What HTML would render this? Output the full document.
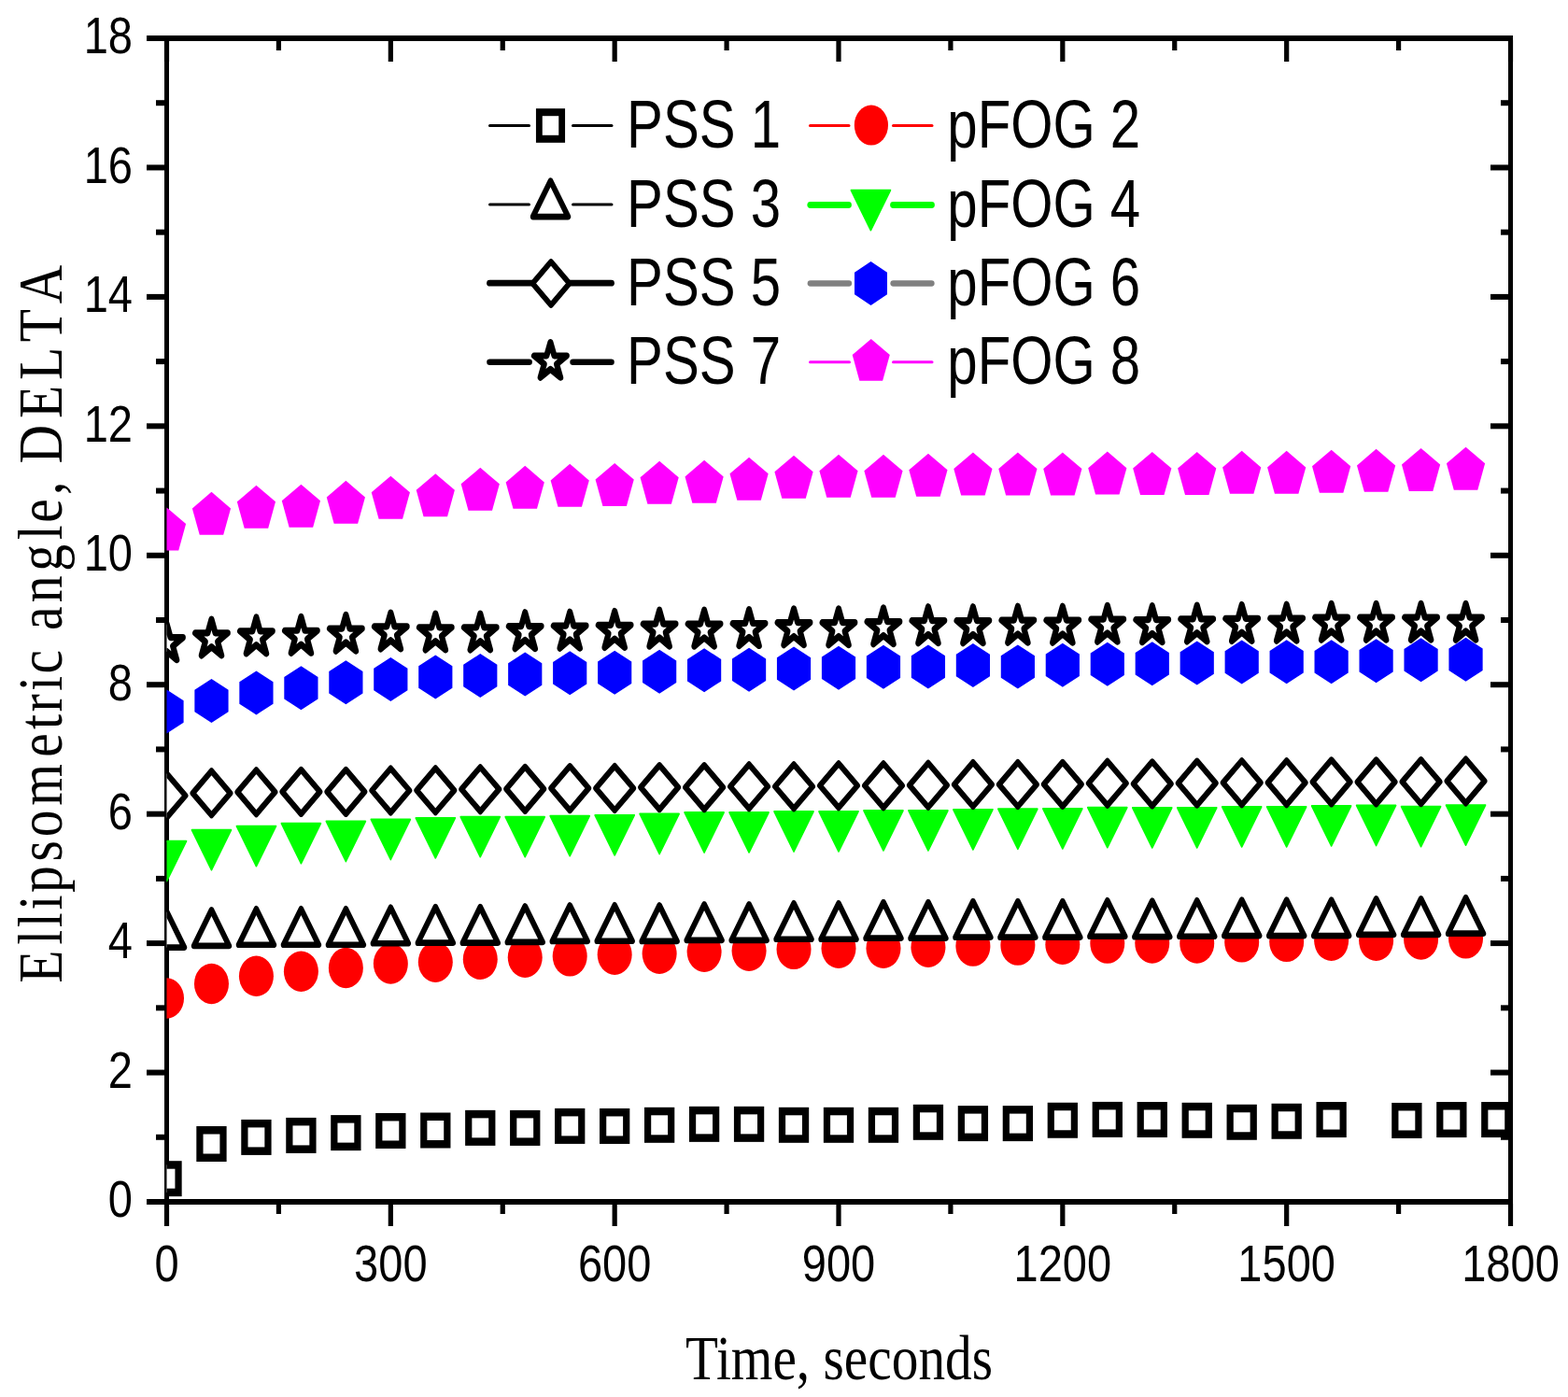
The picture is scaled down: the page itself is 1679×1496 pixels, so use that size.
<!DOCTYPE html>
<html><head><meta charset="utf-8"><title>Ellipsometric angle vs time</title>
<style>html,body{margin:0;padding:0;background:#fff;}svg{display:block;}.ax{font-family:"Liberation Sans",Arial,sans-serif;font-size:56px;fill:#000;}.lg{font-family:"Liberation Sans",Arial,sans-serif;font-size:72.7px;fill:#000;}.tt{font-family:"Liberation Serif","Times New Roman",serif;font-size:68.5px;fill:#000;}</style>
</head><body>
<svg width="1679" height="1496" viewBox="0 0 1679 1496">
<rect width="1679" height="1496" fill="#fff"/>
<defs><clipPath id="pc"><rect x="178.5" y="41" width="1439" height="1246"/></clipPath></defs>
<g fill="#000"><rect x="157" y="38" width="1463" height="6"/><rect x="157" y="1284" width="1463" height="6"/><rect x="176" y="38" width="5" height="1275"/><rect x="1615" y="38" width="5" height="1275"/><rect x="157" y="1284" width="20" height="6"/><rect x="1596" y="1284" width="20" height="6"/><rect x="167" y="1214.78" width="10" height="6"/><rect x="1607" y="1214.78" width="9" height="6"/><rect x="157" y="1145.56" width="20" height="6"/><rect x="1596" y="1145.56" width="20" height="6"/><rect x="167" y="1076.33" width="10" height="6"/><rect x="1607" y="1076.33" width="9" height="6"/><rect x="157" y="1007.11" width="20" height="6"/><rect x="1596" y="1007.11" width="20" height="6"/><rect x="167" y="937.89" width="10" height="6"/><rect x="1607" y="937.89" width="9" height="6"/><rect x="157" y="868.67" width="20" height="6"/><rect x="1596" y="868.67" width="20" height="6"/><rect x="167" y="799.44" width="10" height="6"/><rect x="1607" y="799.44" width="9" height="6"/><rect x="157" y="730.22" width="20" height="6"/><rect x="1596" y="730.22" width="20" height="6"/><rect x="167" y="661" width="10" height="6"/><rect x="1607" y="661" width="9" height="6"/><rect x="157" y="591.78" width="20" height="6"/><rect x="1596" y="591.78" width="20" height="6"/><rect x="167" y="522.56" width="10" height="6"/><rect x="1607" y="522.56" width="9" height="6"/><rect x="157" y="453.33" width="20" height="6"/><rect x="1596" y="453.33" width="20" height="6"/><rect x="167" y="384.11" width="10" height="6"/><rect x="1607" y="384.11" width="9" height="6"/><rect x="157" y="314.89" width="20" height="6"/><rect x="1596" y="314.89" width="20" height="6"/><rect x="167" y="245.67" width="10" height="6"/><rect x="1607" y="245.67" width="9" height="6"/><rect x="157" y="176.44" width="20" height="6"/><rect x="1596" y="176.44" width="20" height="6"/><rect x="167" y="107.22" width="10" height="6"/><rect x="1607" y="107.22" width="9" height="6"/><rect x="157" y="38" width="20" height="6"/><rect x="1596" y="38" width="20" height="6"/><rect x="175.9" y="1289" width="5.2" height="24"/><rect x="175.9" y="43" width="5.2" height="23"/><rect x="295.82" y="1289" width="5.2" height="11"/><rect x="295.82" y="43" width="5.2" height="11"/><rect x="415.73" y="1289" width="5.2" height="24"/><rect x="415.73" y="43" width="5.2" height="23"/><rect x="535.65" y="1289" width="5.2" height="11"/><rect x="535.65" y="43" width="5.2" height="11"/><rect x="655.57" y="1289" width="5.2" height="24"/><rect x="655.57" y="43" width="5.2" height="23"/><rect x="775.48" y="1289" width="5.2" height="11"/><rect x="775.48" y="43" width="5.2" height="11"/><rect x="895.4" y="1289" width="5.2" height="24"/><rect x="895.4" y="43" width="5.2" height="23"/><rect x="1015.32" y="1289" width="5.2" height="11"/><rect x="1015.32" y="43" width="5.2" height="11"/><rect x="1135.23" y="1289" width="5.2" height="24"/><rect x="1135.23" y="43" width="5.2" height="23"/><rect x="1255.15" y="1289" width="5.2" height="11"/><rect x="1255.15" y="43" width="5.2" height="11"/><rect x="1375.07" y="1289" width="5.2" height="24"/><rect x="1375.07" y="43" width="5.2" height="23"/><rect x="1494.98" y="1289" width="5.2" height="11"/><rect x="1494.98" y="43" width="5.2" height="11"/><rect x="1614.9" y="1289" width="5.2" height="24"/><rect x="1614.9" y="43" width="5.2" height="23"/></g>
<g clip-path="url(#pc)">
<g transform="translate(178.5,1262.2) scale(0.85,1)"><rect x="-14.75" y="-14.75" width="29.5" height="29.5" fill="#fff" stroke="#000" stroke-width="8.5"/></g><g transform="translate(226.47,1225) scale(0.85,1)"><rect x="-14.75" y="-14.75" width="29.5" height="29.5" fill="#fff" stroke="#000" stroke-width="8.5"/></g><g transform="translate(274.43,1217.9) scale(0.85,1)"><rect x="-14.75" y="-14.75" width="29.5" height="29.5" fill="#fff" stroke="#000" stroke-width="8.5"/></g><g transform="translate(322.4,1215.9) scale(0.85,1)"><rect x="-14.75" y="-14.75" width="29.5" height="29.5" fill="#fff" stroke="#000" stroke-width="8.5"/></g><g transform="translate(370.37,1213.1) scale(0.85,1)"><rect x="-14.75" y="-14.75" width="29.5" height="29.5" fill="#fff" stroke="#000" stroke-width="8.5"/></g><g transform="translate(418.33,1210.95) scale(0.85,1)"><rect x="-14.75" y="-14.75" width="29.5" height="29.5" fill="#fff" stroke="#000" stroke-width="8.5"/></g><g transform="translate(466.3,1210.5) scale(0.85,1)"><rect x="-14.75" y="-14.75" width="29.5" height="29.5" fill="#fff" stroke="#000" stroke-width="8.5"/></g><g transform="translate(514.27,1207.85) scale(0.85,1)"><rect x="-14.75" y="-14.75" width="29.5" height="29.5" fill="#fff" stroke="#000" stroke-width="8.5"/></g><g transform="translate(562.23,1207.9) scale(0.85,1)"><rect x="-14.75" y="-14.75" width="29.5" height="29.5" fill="#fff" stroke="#000" stroke-width="8.5"/></g><g transform="translate(610.2,1205.9) scale(0.85,1)"><rect x="-14.75" y="-14.75" width="29.5" height="29.5" fill="#fff" stroke="#000" stroke-width="8.5"/></g><g transform="translate(658.17,1205.95) scale(0.85,1)"><rect x="-14.75" y="-14.75" width="29.5" height="29.5" fill="#fff" stroke="#000" stroke-width="8.5"/></g><g transform="translate(706.13,1204.8) scale(0.85,1)"><rect x="-14.75" y="-14.75" width="29.5" height="29.5" fill="#fff" stroke="#000" stroke-width="8.5"/></g><g transform="translate(754.1,1203.85) scale(0.85,1)"><rect x="-14.75" y="-14.75" width="29.5" height="29.5" fill="#fff" stroke="#000" stroke-width="8.5"/></g><g transform="translate(802.07,1203.85) scale(0.85,1)"><rect x="-14.75" y="-14.75" width="29.5" height="29.5" fill="#fff" stroke="#000" stroke-width="8.5"/></g><g transform="translate(850.03,1204.8) scale(0.85,1)"><rect x="-14.75" y="-14.75" width="29.5" height="29.5" fill="#fff" stroke="#000" stroke-width="8.5"/></g><g transform="translate(898,1204.8) scale(0.85,1)"><rect x="-14.75" y="-14.75" width="29.5" height="29.5" fill="#fff" stroke="#000" stroke-width="8.5"/></g><g transform="translate(945.97,1204.8) scale(0.85,1)"><rect x="-14.75" y="-14.75" width="29.5" height="29.5" fill="#fff" stroke="#000" stroke-width="8.5"/></g><g transform="translate(993.93,1201.8) scale(0.85,1)"><rect x="-14.75" y="-14.75" width="29.5" height="29.5" fill="#fff" stroke="#000" stroke-width="8.5"/></g><g transform="translate(1041.9,1203.1) scale(0.85,1)"><rect x="-14.75" y="-14.75" width="29.5" height="29.5" fill="#fff" stroke="#000" stroke-width="8.5"/></g><g transform="translate(1089.87,1203.1) scale(0.85,1)"><rect x="-14.75" y="-14.75" width="29.5" height="29.5" fill="#fff" stroke="#000" stroke-width="8.5"/></g><g transform="translate(1137.83,1199.75) scale(0.85,1)"><rect x="-14.75" y="-14.75" width="29.5" height="29.5" fill="#fff" stroke="#000" stroke-width="8.5"/></g><g transform="translate(1185.8,1198.9) scale(0.85,1)"><rect x="-14.75" y="-14.75" width="29.5" height="29.5" fill="#fff" stroke="#000" stroke-width="8.5"/></g><g transform="translate(1233.77,1199) scale(0.85,1)"><rect x="-14.75" y="-14.75" width="29.5" height="29.5" fill="#fff" stroke="#000" stroke-width="8.5"/></g><g transform="translate(1281.73,1199.8) scale(0.85,1)"><rect x="-14.75" y="-14.75" width="29.5" height="29.5" fill="#fff" stroke="#000" stroke-width="8.5"/></g><g transform="translate(1329.7,1201.75) scale(0.85,1)"><rect x="-14.75" y="-14.75" width="29.5" height="29.5" fill="#fff" stroke="#000" stroke-width="8.5"/></g><g transform="translate(1377.67,1200.75) scale(0.85,1)"><rect x="-14.75" y="-14.75" width="29.5" height="29.5" fill="#fff" stroke="#000" stroke-width="8.5"/></g><g transform="translate(1425.63,1199.05) scale(0.85,1)"><rect x="-14.75" y="-14.75" width="29.5" height="29.5" fill="#fff" stroke="#000" stroke-width="8.5"/></g><g transform="translate(1506.38,1199.95) scale(0.85,1)"><rect x="-14.75" y="-14.75" width="29.5" height="29.5" fill="#fff" stroke="#000" stroke-width="8.5"/></g><g transform="translate(1554.34,1199.05) scale(0.85,1)"><rect x="-14.75" y="-14.75" width="29.5" height="29.5" fill="#fff" stroke="#000" stroke-width="8.5"/></g><g transform="translate(1602.31,1199.05) scale(0.85,1)"><rect x="-14.75" y="-14.75" width="29.5" height="29.5" fill="#fff" stroke="#000" stroke-width="8.5"/></g><ellipse cx="178.5" cy="1069" rx="18.5" ry="21.7" fill="#ff0000"/><ellipse cx="226.47" cy="1053.5" rx="18.5" ry="21.7" fill="#ff0000"/><ellipse cx="274.43" cy="1045.3" rx="18.5" ry="21.7" fill="#ff0000"/><ellipse cx="322.4" cy="1040.2" rx="18.5" ry="21.7" fill="#ff0000"/><ellipse cx="370.37" cy="1036.5" rx="18.5" ry="21.7" fill="#ff0000"/><ellipse cx="418.33" cy="1032" rx="18.5" ry="21.7" fill="#ff0000"/><ellipse cx="466.3" cy="1030.2" rx="18.5" ry="21.7" fill="#ff0000"/><ellipse cx="514.27" cy="1027.3" rx="18.5" ry="21.7" fill="#ff0000"/><ellipse cx="562.23" cy="1025.2" rx="18.5" ry="21.7" fill="#ff0000"/><ellipse cx="610.2" cy="1023.9" rx="18.5" ry="21.7" fill="#ff0000"/><ellipse cx="658.17" cy="1022.2" rx="18.5" ry="21.7" fill="#ff0000"/><ellipse cx="706.13" cy="1021.3" rx="18.5" ry="21.7" fill="#ff0000"/><ellipse cx="754.1" cy="1019.2" rx="18.5" ry="21.7" fill="#ff0000"/><ellipse cx="802.07" cy="1018.3" rx="18.5" ry="21.7" fill="#ff0000"/><ellipse cx="850.03" cy="1016.4" rx="18.5" ry="21.7" fill="#ff0000"/><ellipse cx="898" cy="1015.3" rx="18.5" ry="21.7" fill="#ff0000"/><ellipse cx="945.97" cy="1015.3" rx="18.5" ry="21.7" fill="#ff0000"/><ellipse cx="993.93" cy="1014.2" rx="18.5" ry="21.7" fill="#ff0000"/><ellipse cx="1041.9" cy="1013.1" rx="18.5" ry="21.7" fill="#ff0000"/><ellipse cx="1089.87" cy="1012.1" rx="18.5" ry="21.7" fill="#ff0000"/><ellipse cx="1137.83" cy="1011.2" rx="18.5" ry="21.7" fill="#ff0000"/><ellipse cx="1185.8" cy="1010.1" rx="18.5" ry="21.7" fill="#ff0000"/><ellipse cx="1233.77" cy="1010" rx="18.5" ry="21.7" fill="#ff0000"/><ellipse cx="1281.73" cy="1010" rx="18.5" ry="21.7" fill="#ff0000"/><ellipse cx="1329.7" cy="1008.9" rx="18.5" ry="21.7" fill="#ff0000"/><ellipse cx="1377.67" cy="1008.4" rx="18.5" ry="21.7" fill="#ff0000"/><ellipse cx="1425.63" cy="1007.3" rx="18.5" ry="21.7" fill="#ff0000"/><ellipse cx="1473.6" cy="1007.3" rx="18.5" ry="21.7" fill="#ff0000"/><ellipse cx="1521.57" cy="1006" rx="18.5" ry="21.7" fill="#ff0000"/><ellipse cx="1569.53" cy="1004.9" rx="18.5" ry="21.7" fill="#ff0000"/><g transform="translate(178.5,1001.74) scale(0.85,1)"><polygon points="0,-25.6 22.17,12.8 -22.17,12.8" fill="#fff" stroke="#000" stroke-width="6.68" stroke-linejoin="round"/></g><g transform="translate(226.47,1000.04) scale(0.85,1)"><polygon points="0,-25.6 22.17,12.8 -22.17,12.8" fill="#fff" stroke="#000" stroke-width="6.68" stroke-linejoin="round"/></g><g transform="translate(274.43,998.94) scale(0.85,1)"><polygon points="0,-25.6 22.17,12.8 -22.17,12.8" fill="#fff" stroke="#000" stroke-width="6.68" stroke-linejoin="round"/></g><g transform="translate(322.4,998.94) scale(0.85,1)"><polygon points="0,-25.6 22.17,12.8 -22.17,12.8" fill="#fff" stroke="#000" stroke-width="6.68" stroke-linejoin="round"/></g><g transform="translate(370.37,998.94) scale(0.85,1)"><polygon points="0,-25.6 22.17,12.8 -22.17,12.8" fill="#fff" stroke="#000" stroke-width="6.68" stroke-linejoin="round"/></g><g transform="translate(418.33,997.44) scale(0.85,1)"><polygon points="0,-25.6 22.17,12.8 -22.17,12.8" fill="#fff" stroke="#000" stroke-width="6.68" stroke-linejoin="round"/></g><g transform="translate(466.3,996.84) scale(0.85,1)"><polygon points="0,-25.6 22.17,12.8 -22.17,12.8" fill="#fff" stroke="#000" stroke-width="6.68" stroke-linejoin="round"/></g><g transform="translate(514.27,996.84) scale(0.85,1)"><polygon points="0,-25.6 22.17,12.8 -22.17,12.8" fill="#fff" stroke="#000" stroke-width="6.68" stroke-linejoin="round"/></g><g transform="translate(562.23,996.14) scale(0.85,1)"><polygon points="0,-25.6 22.17,12.8 -22.17,12.8" fill="#fff" stroke="#000" stroke-width="6.68" stroke-linejoin="round"/></g><g transform="translate(610.2,995.14) scale(0.85,1)"><polygon points="0,-25.6 22.17,12.8 -22.17,12.8" fill="#fff" stroke="#000" stroke-width="6.68" stroke-linejoin="round"/></g><g transform="translate(658.17,994.94) scale(0.85,1)"><polygon points="0,-25.6 22.17,12.8 -22.17,12.8" fill="#fff" stroke="#000" stroke-width="6.68" stroke-linejoin="round"/></g><g transform="translate(706.13,995.14) scale(0.85,1)"><polygon points="0,-25.6 22.17,12.8 -22.17,12.8" fill="#fff" stroke="#000" stroke-width="6.68" stroke-linejoin="round"/></g><g transform="translate(754.1,994.04) scale(0.85,1)"><polygon points="0,-25.6 22.17,12.8 -22.17,12.8" fill="#fff" stroke="#000" stroke-width="6.68" stroke-linejoin="round"/></g><g transform="translate(802.07,994.04) scale(0.85,1)"><polygon points="0,-25.6 22.17,12.8 -22.17,12.8" fill="#fff" stroke="#000" stroke-width="6.68" stroke-linejoin="round"/></g><g transform="translate(850.03,992.94) scale(0.85,1)"><polygon points="0,-25.6 22.17,12.8 -22.17,12.8" fill="#fff" stroke="#000" stroke-width="6.68" stroke-linejoin="round"/></g><g transform="translate(898,992.94) scale(0.85,1)"><polygon points="0,-25.6 22.17,12.8 -22.17,12.8" fill="#fff" stroke="#000" stroke-width="6.68" stroke-linejoin="round"/></g><g transform="translate(945.97,991.84) scale(0.85,1)"><polygon points="0,-25.6 22.17,12.8 -22.17,12.8" fill="#fff" stroke="#000" stroke-width="6.68" stroke-linejoin="round"/></g><g transform="translate(993.93,991.84) scale(0.85,1)"><polygon points="0,-25.6 22.17,12.8 -22.17,12.8" fill="#fff" stroke="#000" stroke-width="6.68" stroke-linejoin="round"/></g><g transform="translate(1041.9,990.84) scale(0.85,1)"><polygon points="0,-25.6 22.17,12.8 -22.17,12.8" fill="#fff" stroke="#000" stroke-width="6.68" stroke-linejoin="round"/></g><g transform="translate(1089.87,990.84) scale(0.85,1)"><polygon points="0,-25.6 22.17,12.8 -22.17,12.8" fill="#fff" stroke="#000" stroke-width="6.68" stroke-linejoin="round"/></g><g transform="translate(1137.83,990.84) scale(0.85,1)"><polygon points="0,-25.6 22.17,12.8 -22.17,12.8" fill="#fff" stroke="#000" stroke-width="6.68" stroke-linejoin="round"/></g><g transform="translate(1185.8,989.94) scale(0.85,1)"><polygon points="0,-25.6 22.17,12.8 -22.17,12.8" fill="#fff" stroke="#000" stroke-width="6.68" stroke-linejoin="round"/></g><g transform="translate(1233.77,990.34) scale(0.85,1)"><polygon points="0,-25.6 22.17,12.8 -22.17,12.8" fill="#fff" stroke="#000" stroke-width="6.68" stroke-linejoin="round"/></g><g transform="translate(1281.73,989.94) scale(0.85,1)"><polygon points="0,-25.6 22.17,12.8 -22.17,12.8" fill="#fff" stroke="#000" stroke-width="6.68" stroke-linejoin="round"/></g><g transform="translate(1329.7,989.24) scale(0.85,1)"><polygon points="0,-25.6 22.17,12.8 -22.17,12.8" fill="#fff" stroke="#000" stroke-width="6.68" stroke-linejoin="round"/></g><g transform="translate(1377.67,989.24) scale(0.85,1)"><polygon points="0,-25.6 22.17,12.8 -22.17,12.8" fill="#fff" stroke="#000" stroke-width="6.68" stroke-linejoin="round"/></g><g transform="translate(1425.63,989.24) scale(0.85,1)"><polygon points="0,-25.6 22.17,12.8 -22.17,12.8" fill="#fff" stroke="#000" stroke-width="6.68" stroke-linejoin="round"/></g><g transform="translate(1473.6,988.04) scale(0.85,1)"><polygon points="0,-25.6 22.17,12.8 -22.17,12.8" fill="#fff" stroke="#000" stroke-width="6.68" stroke-linejoin="round"/></g><g transform="translate(1521.57,988.04) scale(0.85,1)"><polygon points="0,-25.6 22.17,12.8 -22.17,12.8" fill="#fff" stroke="#000" stroke-width="6.68" stroke-linejoin="round"/></g><g transform="translate(1569.53,986.84) scale(0.85,1)"><polygon points="0,-25.6 22.17,12.8 -22.17,12.8" fill="#fff" stroke="#000" stroke-width="6.68" stroke-linejoin="round"/></g><g transform="translate(178.5,915.05) scale(0.85,1)"><polygon points="0,28.5 24.68,-14.25 -24.68,-14.25" fill="#00ff00" stroke="#00ff00" stroke-width="2" stroke-linejoin="round"/></g><g transform="translate(226.47,903.05) scale(0.85,1)"><polygon points="0,28.5 24.68,-14.25 -24.68,-14.25" fill="#00ff00" stroke="#00ff00" stroke-width="2" stroke-linejoin="round"/></g><g transform="translate(274.43,898.95) scale(0.85,1)"><polygon points="0,28.5 24.68,-14.25 -24.68,-14.25" fill="#00ff00" stroke="#00ff00" stroke-width="2" stroke-linejoin="round"/></g><g transform="translate(322.4,896.05) scale(0.85,1)"><polygon points="0,28.5 24.68,-14.25 -24.68,-14.25" fill="#00ff00" stroke="#00ff00" stroke-width="2" stroke-linejoin="round"/></g><g transform="translate(370.37,893.85) scale(0.85,1)"><polygon points="0,28.5 24.68,-14.25 -24.68,-14.25" fill="#00ff00" stroke="#00ff00" stroke-width="2" stroke-linejoin="round"/></g><g transform="translate(418.33,891.85) scale(0.85,1)"><polygon points="0,28.5 24.68,-14.25 -24.68,-14.25" fill="#00ff00" stroke="#00ff00" stroke-width="2" stroke-linejoin="round"/></g><g transform="translate(466.3,890.15) scale(0.85,1)"><polygon points="0,28.5 24.68,-14.25 -24.68,-14.25" fill="#00ff00" stroke="#00ff00" stroke-width="2" stroke-linejoin="round"/></g><g transform="translate(514.27,889.05) scale(0.85,1)"><polygon points="0,28.5 24.68,-14.25 -24.68,-14.25" fill="#00ff00" stroke="#00ff00" stroke-width="2" stroke-linejoin="round"/></g><g transform="translate(562.23,889.05) scale(0.85,1)"><polygon points="0,28.5 24.68,-14.25 -24.68,-14.25" fill="#00ff00" stroke="#00ff00" stroke-width="2" stroke-linejoin="round"/></g><g transform="translate(610.2,888.05) scale(0.85,1)"><polygon points="0,28.5 24.68,-14.25 -24.68,-14.25" fill="#00ff00" stroke="#00ff00" stroke-width="2" stroke-linejoin="round"/></g><g transform="translate(658.17,887.15) scale(0.85,1)"><polygon points="0,28.5 24.68,-14.25 -24.68,-14.25" fill="#00ff00" stroke="#00ff00" stroke-width="2" stroke-linejoin="round"/></g><g transform="translate(706.13,885.85) scale(0.85,1)"><polygon points="0,28.5 24.68,-14.25 -24.68,-14.25" fill="#00ff00" stroke="#00ff00" stroke-width="2" stroke-linejoin="round"/></g><g transform="translate(754.1,884.35) scale(0.85,1)"><polygon points="0,28.5 24.68,-14.25 -24.68,-14.25" fill="#00ff00" stroke="#00ff00" stroke-width="2" stroke-linejoin="round"/></g><g transform="translate(802.07,884.25) scale(0.85,1)"><polygon points="0,28.5 24.68,-14.25 -24.68,-14.25" fill="#00ff00" stroke="#00ff00" stroke-width="2" stroke-linejoin="round"/></g><g transform="translate(850.03,883.35) scale(0.85,1)"><polygon points="0,28.5 24.68,-14.25 -24.68,-14.25" fill="#00ff00" stroke="#00ff00" stroke-width="2" stroke-linejoin="round"/></g><g transform="translate(898,883.2) scale(0.85,1)"><polygon points="0,28.5 24.68,-14.25 -24.68,-14.25" fill="#00ff00" stroke="#00ff00" stroke-width="2" stroke-linejoin="round"/></g><g transform="translate(945.97,882.25) scale(0.85,1)"><polygon points="0,28.5 24.68,-14.25 -24.68,-14.25" fill="#00ff00" stroke="#00ff00" stroke-width="2" stroke-linejoin="round"/></g><g transform="translate(993.93,882.25) scale(0.85,1)"><polygon points="0,28.5 24.68,-14.25 -24.68,-14.25" fill="#00ff00" stroke="#00ff00" stroke-width="2" stroke-linejoin="round"/></g><g transform="translate(1041.9,881.15) scale(0.85,1)"><polygon points="0,28.5 24.68,-14.25 -24.68,-14.25" fill="#00ff00" stroke="#00ff00" stroke-width="2" stroke-linejoin="round"/></g><g transform="translate(1089.87,880.6) scale(0.85,1)"><polygon points="0,28.5 24.68,-14.25 -24.68,-14.25" fill="#00ff00" stroke="#00ff00" stroke-width="2" stroke-linejoin="round"/></g><g transform="translate(1137.83,880.3) scale(0.85,1)"><polygon points="0,28.5 24.68,-14.25 -24.68,-14.25" fill="#00ff00" stroke="#00ff00" stroke-width="2" stroke-linejoin="round"/></g><g transform="translate(1185.8,879.05) scale(0.85,1)"><polygon points="0,28.5 24.68,-14.25 -24.68,-14.25" fill="#00ff00" stroke="#00ff00" stroke-width="2" stroke-linejoin="round"/></g><g transform="translate(1233.77,879.25) scale(0.85,1)"><polygon points="0,28.5 24.68,-14.25 -24.68,-14.25" fill="#00ff00" stroke="#00ff00" stroke-width="2" stroke-linejoin="round"/></g><g transform="translate(1281.73,879.25) scale(0.85,1)"><polygon points="0,28.5 24.68,-14.25 -24.68,-14.25" fill="#00ff00" stroke="#00ff00" stroke-width="2" stroke-linejoin="round"/></g><g transform="translate(1329.7,878.25) scale(0.85,1)"><polygon points="0,28.5 24.68,-14.25 -24.68,-14.25" fill="#00ff00" stroke="#00ff00" stroke-width="2" stroke-linejoin="round"/></g><g transform="translate(1377.67,878.25) scale(0.85,1)"><polygon points="0,28.5 24.68,-14.25 -24.68,-14.25" fill="#00ff00" stroke="#00ff00" stroke-width="2" stroke-linejoin="round"/></g><g transform="translate(1425.63,877.3) scale(0.85,1)"><polygon points="0,28.5 24.68,-14.25 -24.68,-14.25" fill="#00ff00" stroke="#00ff00" stroke-width="2" stroke-linejoin="round"/></g><g transform="translate(1473.6,876.85) scale(0.85,1)"><polygon points="0,28.5 24.68,-14.25 -24.68,-14.25" fill="#00ff00" stroke="#00ff00" stroke-width="2" stroke-linejoin="round"/></g><g transform="translate(1521.57,878.05) scale(0.85,1)"><polygon points="0,28.5 24.68,-14.25 -24.68,-14.25" fill="#00ff00" stroke="#00ff00" stroke-width="2" stroke-linejoin="round"/></g><g transform="translate(1569.53,876.4) scale(0.85,1)"><polygon points="0,28.5 24.68,-14.25 -24.68,-14.25" fill="#00ff00" stroke="#00ff00" stroke-width="2" stroke-linejoin="round"/></g><g transform="translate(178.5,852) scale(0.85,1)"><polygon points="0,-23.7 23.7,0 0,23.7 -23.7,0" fill="#fff" stroke="#000" stroke-width="6.6" stroke-linejoin="round"/></g><g transform="translate(226.47,849.3) scale(0.85,1)"><polygon points="0,-23.7 23.7,0 0,23.7 -23.7,0" fill="#fff" stroke="#000" stroke-width="6.6" stroke-linejoin="round"/></g><g transform="translate(274.43,848.2) scale(0.85,1)"><polygon points="0,-23.7 23.7,0 0,23.7 -23.7,0" fill="#fff" stroke="#000" stroke-width="6.6" stroke-linejoin="round"/></g><g transform="translate(322.4,847.9) scale(0.85,1)"><polygon points="0,-23.7 23.7,0 0,23.7 -23.7,0" fill="#fff" stroke="#000" stroke-width="6.6" stroke-linejoin="round"/></g><g transform="translate(370.37,847.9) scale(0.85,1)"><polygon points="0,-23.7 23.7,0 0,23.7 -23.7,0" fill="#fff" stroke="#000" stroke-width="6.6" stroke-linejoin="round"/></g><g transform="translate(418.33,846.5) scale(0.85,1)"><polygon points="0,-23.7 23.7,0 0,23.7 -23.7,0" fill="#fff" stroke="#000" stroke-width="6.6" stroke-linejoin="round"/></g><g transform="translate(466.3,846.3) scale(0.85,1)"><polygon points="0,-23.7 23.7,0 0,23.7 -23.7,0" fill="#fff" stroke="#000" stroke-width="6.6" stroke-linejoin="round"/></g><g transform="translate(514.27,845.2) scale(0.85,1)"><polygon points="0,-23.7 23.7,0 0,23.7 -23.7,0" fill="#fff" stroke="#000" stroke-width="6.6" stroke-linejoin="round"/></g><g transform="translate(562.23,844.9) scale(0.85,1)"><polygon points="0,-23.7 23.7,0 0,23.7 -23.7,0" fill="#fff" stroke="#000" stroke-width="6.6" stroke-linejoin="round"/></g><g transform="translate(610.2,844.15) scale(0.85,1)"><polygon points="0,-23.7 23.7,0 0,23.7 -23.7,0" fill="#fff" stroke="#000" stroke-width="6.6" stroke-linejoin="round"/></g><g transform="translate(658.17,844.05) scale(0.85,1)"><polygon points="0,-23.7 23.7,0 0,23.7 -23.7,0" fill="#fff" stroke="#000" stroke-width="6.6" stroke-linejoin="round"/></g><g transform="translate(706.13,843.15) scale(0.85,1)"><polygon points="0,-23.7 23.7,0 0,23.7 -23.7,0" fill="#fff" stroke="#000" stroke-width="6.6" stroke-linejoin="round"/></g><g transform="translate(754.1,843.15) scale(0.85,1)"><polygon points="0,-23.7 23.7,0 0,23.7 -23.7,0" fill="#fff" stroke="#000" stroke-width="6.6" stroke-linejoin="round"/></g><g transform="translate(802.07,842.25) scale(0.85,1)"><polygon points="0,-23.7 23.7,0 0,23.7 -23.7,0" fill="#fff" stroke="#000" stroke-width="6.6" stroke-linejoin="round"/></g><g transform="translate(850.03,842.25) scale(0.85,1)"><polygon points="0,-23.7 23.7,0 0,23.7 -23.7,0" fill="#fff" stroke="#000" stroke-width="6.6" stroke-linejoin="round"/></g><g transform="translate(898,841.25) scale(0.85,1)"><polygon points="0,-23.7 23.7,0 0,23.7 -23.7,0" fill="#fff" stroke="#000" stroke-width="6.6" stroke-linejoin="round"/></g><g transform="translate(945.97,841.25) scale(0.85,1)"><polygon points="0,-23.7 23.7,0 0,23.7 -23.7,0" fill="#fff" stroke="#000" stroke-width="6.6" stroke-linejoin="round"/></g><g transform="translate(993.93,840.8) scale(0.85,1)"><polygon points="0,-23.7 23.7,0 0,23.7 -23.7,0" fill="#fff" stroke="#000" stroke-width="6.6" stroke-linejoin="round"/></g><g transform="translate(1041.9,840.05) scale(0.85,1)"><polygon points="0,-23.7 23.7,0 0,23.7 -23.7,0" fill="#fff" stroke="#000" stroke-width="6.6" stroke-linejoin="round"/></g><g transform="translate(1089.87,840.05) scale(0.85,1)"><polygon points="0,-23.7 23.7,0 0,23.7 -23.7,0" fill="#fff" stroke="#000" stroke-width="6.6" stroke-linejoin="round"/></g><g transform="translate(1137.83,839.85) scale(0.85,1)"><polygon points="0,-23.7 23.7,0 0,23.7 -23.7,0" fill="#fff" stroke="#000" stroke-width="6.6" stroke-linejoin="round"/></g><g transform="translate(1185.8,838.75) scale(0.85,1)"><polygon points="0,-23.7 23.7,0 0,23.7 -23.7,0" fill="#fff" stroke="#000" stroke-width="6.6" stroke-linejoin="round"/></g><g transform="translate(1233.77,839.4) scale(0.85,1)"><polygon points="0,-23.7 23.7,0 0,23.7 -23.7,0" fill="#fff" stroke="#000" stroke-width="6.6" stroke-linejoin="round"/></g><g transform="translate(1281.73,838.6) scale(0.85,1)"><polygon points="0,-23.7 23.7,0 0,23.7 -23.7,0" fill="#fff" stroke="#000" stroke-width="6.6" stroke-linejoin="round"/></g><g transform="translate(1329.7,838.2) scale(0.85,1)"><polygon points="0,-23.7 23.7,0 0,23.7 -23.7,0" fill="#fff" stroke="#000" stroke-width="6.6" stroke-linejoin="round"/></g><g transform="translate(1377.67,838.2) scale(0.85,1)"><polygon points="0,-23.7 23.7,0 0,23.7 -23.7,0" fill="#fff" stroke="#000" stroke-width="6.6" stroke-linejoin="round"/></g><g transform="translate(1425.63,837.4) scale(0.85,1)"><polygon points="0,-23.7 23.7,0 0,23.7 -23.7,0" fill="#fff" stroke="#000" stroke-width="6.6" stroke-linejoin="round"/></g><g transform="translate(1473.6,837.4) scale(0.85,1)"><polygon points="0,-23.7 23.7,0 0,23.7 -23.7,0" fill="#fff" stroke="#000" stroke-width="6.6" stroke-linejoin="round"/></g><g transform="translate(1521.57,837.15) scale(0.85,1)"><polygon points="0,-23.7 23.7,0 0,23.7 -23.7,0" fill="#fff" stroke="#000" stroke-width="6.6" stroke-linejoin="round"/></g><g transform="translate(1569.53,836.45) scale(0.85,1)"><polygon points="0,-23.7 23.7,0 0,23.7 -23.7,0" fill="#fff" stroke="#000" stroke-width="6.6" stroke-linejoin="round"/></g><polygon points="178.5,738.5 196.6,750.25 196.6,773.75 178.5,785.5 160.4,773.75 160.4,750.25" fill="#0000ff"/><polygon points="226.47,726.9 244.57,738.65 244.57,762.15 226.47,773.9 208.37,762.15 208.37,738.65" fill="#0000ff"/><polygon points="274.43,718.4 292.53,730.15 292.53,753.65 274.43,765.4 256.33,753.65 256.33,730.15" fill="#0000ff"/><polygon points="322.4,713.3 340.5,725.05 340.5,748.55 322.4,760.3 304.3,748.55 304.3,725.05" fill="#0000ff"/><polygon points="370.37,707.3 388.47,719.05 388.47,742.55 370.37,754.3 352.27,742.55 352.27,719.05" fill="#0000ff"/><polygon points="418.33,704.05 436.43,715.8 436.43,739.3 418.33,751.05 400.23,739.3 400.23,715.8" fill="#0000ff"/><polygon points="466.3,701.4 484.4,713.15 484.4,736.65 466.3,748.4 448.2,736.65 448.2,713.15" fill="#0000ff"/><polygon points="514.27,700.1 532.37,711.85 532.37,735.35 514.27,747.1 496.17,735.35 496.17,711.85" fill="#0000ff"/><polygon points="562.23,698.4 580.33,710.15 580.33,733.65 562.23,745.4 544.13,733.65 544.13,710.15" fill="#0000ff"/><polygon points="610.2,697.3 628.3,709.05 628.3,732.55 610.2,744.3 592.1,732.55 592.1,709.05" fill="#0000ff"/><polygon points="658.17,696.8 676.27,708.55 676.27,732.05 658.17,743.8 640.07,732.05 640.07,708.55" fill="#0000ff"/><polygon points="706.13,695.7 724.23,707.45 724.23,730.95 706.13,742.7 688.03,730.95 688.03,707.45" fill="#0000ff"/><polygon points="754.1,694.2 772.2,705.95 772.2,729.45 754.1,741.2 736,729.45 736,705.95" fill="#0000ff"/><polygon points="802.07,693.85 820.17,705.6 820.17,729.1 802.07,740.85 783.97,729.1 783.97,705.6" fill="#0000ff"/><polygon points="850.03,692.5 868.13,704.25 868.13,727.75 850.03,739.5 831.93,727.75 831.93,704.25" fill="#0000ff"/><polygon points="898,691.8 916.1,703.55 916.1,727.05 898,738.8 879.9,727.05 879.9,703.55" fill="#0000ff"/><polygon points="945.97,690.75 964.07,702.5 964.07,726 945.97,737.75 927.87,726 927.87,702.5" fill="#0000ff"/><polygon points="993.93,690.4 1012.03,702.15 1012.03,725.65 993.93,737.4 975.83,725.65 975.83,702.15" fill="#0000ff"/><polygon points="1041.9,689.05 1060,700.8 1060,724.3 1041.9,736.05 1023.8,724.3 1023.8,700.8" fill="#0000ff"/><polygon points="1089.87,690.4 1107.97,702.15 1107.97,725.65 1089.87,737.4 1071.77,725.65 1071.77,702.15" fill="#0000ff"/><polygon points="1137.83,688.7 1155.93,700.45 1155.93,723.95 1137.83,735.7 1119.73,723.95 1119.73,700.45" fill="#0000ff"/><polygon points="1185.8,687.8 1203.9,699.55 1203.9,723.05 1185.8,734.8 1167.7,723.05 1167.7,699.55" fill="#0000ff"/><polygon points="1233.77,687.15 1251.87,698.9 1251.87,722.4 1233.77,734.15 1215.67,722.4 1215.67,698.9" fill="#0000ff"/><polygon points="1281.73,686.55 1299.83,698.3 1299.83,721.8 1281.73,733.55 1263.63,721.8 1263.63,698.3" fill="#0000ff"/><polygon points="1329.7,685.6 1347.8,697.35 1347.8,720.85 1329.7,732.6 1311.6,720.85 1311.6,697.35" fill="#0000ff"/><polygon points="1377.67,685.35 1395.77,697.1 1395.77,720.6 1377.67,732.35 1359.57,720.6 1359.57,697.1" fill="#0000ff"/><polygon points="1425.63,685.35 1443.73,697.1 1443.73,720.6 1425.63,732.35 1407.53,720.6 1407.53,697.1" fill="#0000ff"/><polygon points="1473.6,684.15 1491.7,695.9 1491.7,719.4 1473.6,731.15 1455.5,719.4 1455.5,695.9" fill="#0000ff"/><polygon points="1521.57,683.35 1539.67,695.1 1539.67,718.6 1521.57,730.35 1503.47,718.6 1503.47,695.1" fill="#0000ff"/><polygon points="1569.53,682.75 1587.63,694.5 1587.63,718 1569.53,729.75 1551.43,718 1551.43,694.5" fill="#0000ff"/><g transform="translate(178.5,689.35) scale(0.85,1)"><polygon points="0,-21.45 4.82,-6.63 20.4,-6.63 7.79,2.53 12.61,17.35 0,8.19 -12.61,17.35 -7.79,2.53 -20.4,-6.63 -4.82,-6.63" fill="#fff" stroke="#000" stroke-width="7.2" stroke-linejoin="round"/></g><g transform="translate(226.47,684.55) scale(0.85,1)"><polygon points="0,-21.45 4.82,-6.63 20.4,-6.63 7.79,2.53 12.61,17.35 0,8.19 -12.61,17.35 -7.79,2.53 -20.4,-6.63 -4.82,-6.63" fill="#fff" stroke="#000" stroke-width="7.2" stroke-linejoin="round"/></g><g transform="translate(274.43,682.45) scale(0.85,1)"><polygon points="0,-21.45 4.82,-6.63 20.4,-6.63 7.79,2.53 12.61,17.35 0,8.19 -12.61,17.35 -7.79,2.53 -20.4,-6.63 -4.82,-6.63" fill="#fff" stroke="#000" stroke-width="7.2" stroke-linejoin="round"/></g><g transform="translate(322.4,681.9) scale(0.85,1)"><polygon points="0,-21.45 4.82,-6.63 20.4,-6.63 7.79,2.53 12.61,17.35 0,8.19 -12.61,17.35 -7.79,2.53 -20.4,-6.63 -4.82,-6.63" fill="#fff" stroke="#000" stroke-width="7.2" stroke-linejoin="round"/></g><g transform="translate(370.37,679.8) scale(0.85,1)"><polygon points="0,-21.45 4.82,-6.63 20.4,-6.63 7.79,2.53 12.61,17.35 0,8.19 -12.61,17.35 -7.79,2.53 -20.4,-6.63 -4.82,-6.63" fill="#fff" stroke="#000" stroke-width="7.2" stroke-linejoin="round"/></g><g transform="translate(418.33,677.6) scale(0.85,1)"><polygon points="0,-21.45 4.82,-6.63 20.4,-6.63 7.79,2.53 12.61,17.35 0,8.19 -12.61,17.35 -7.79,2.53 -20.4,-6.63 -4.82,-6.63" fill="#fff" stroke="#000" stroke-width="7.2" stroke-linejoin="round"/></g><g transform="translate(466.3,678.55) scale(0.85,1)"><polygon points="0,-21.45 4.82,-6.63 20.4,-6.63 7.79,2.53 12.61,17.35 0,8.19 -12.61,17.35 -7.79,2.53 -20.4,-6.63 -4.82,-6.63" fill="#fff" stroke="#000" stroke-width="7.2" stroke-linejoin="round"/></g><g transform="translate(514.27,678.55) scale(0.85,1)"><polygon points="0,-21.45 4.82,-6.63 20.4,-6.63 7.79,2.53 12.61,17.35 0,8.19 -12.61,17.35 -7.79,2.53 -20.4,-6.63 -4.82,-6.63" fill="#fff" stroke="#000" stroke-width="7.2" stroke-linejoin="round"/></g><g transform="translate(562.23,677.25) scale(0.85,1)"><polygon points="0,-21.45 4.82,-6.63 20.4,-6.63 7.79,2.53 12.61,17.35 0,8.19 -12.61,17.35 -7.79,2.53 -20.4,-6.63 -4.82,-6.63" fill="#fff" stroke="#000" stroke-width="7.2" stroke-linejoin="round"/></g><g transform="translate(610.2,676.75) scale(0.85,1)"><polygon points="0,-21.45 4.82,-6.63 20.4,-6.63 7.79,2.53 12.61,17.35 0,8.19 -12.61,17.35 -7.79,2.53 -20.4,-6.63 -4.82,-6.63" fill="#fff" stroke="#000" stroke-width="7.2" stroke-linejoin="round"/></g><g transform="translate(658.17,676) scale(0.85,1)"><polygon points="0,-21.45 4.82,-6.63 20.4,-6.63 7.79,2.53 12.61,17.35 0,8.19 -12.61,17.35 -7.79,2.53 -20.4,-6.63 -4.82,-6.63" fill="#fff" stroke="#000" stroke-width="7.2" stroke-linejoin="round"/></g><g transform="translate(706.13,674.7) scale(0.85,1)"><polygon points="0,-21.45 4.82,-6.63 20.4,-6.63 7.79,2.53 12.61,17.35 0,8.19 -12.61,17.35 -7.79,2.53 -20.4,-6.63 -4.82,-6.63" fill="#fff" stroke="#000" stroke-width="7.2" stroke-linejoin="round"/></g><g transform="translate(754.1,674.7) scale(0.85,1)"><polygon points="0,-21.45 4.82,-6.63 20.4,-6.63 7.79,2.53 12.61,17.35 0,8.19 -12.61,17.35 -7.79,2.53 -20.4,-6.63 -4.82,-6.63" fill="#fff" stroke="#000" stroke-width="7.2" stroke-linejoin="round"/></g><g transform="translate(802.07,674.15) scale(0.85,1)"><polygon points="0,-21.45 4.82,-6.63 20.4,-6.63 7.79,2.53 12.61,17.35 0,8.19 -12.61,17.35 -7.79,2.53 -20.4,-6.63 -4.82,-6.63" fill="#fff" stroke="#000" stroke-width="7.2" stroke-linejoin="round"/></g><g transform="translate(850.03,673.35) scale(0.85,1)"><polygon points="0,-21.45 4.82,-6.63 20.4,-6.63 7.79,2.53 12.61,17.35 0,8.19 -12.61,17.35 -7.79,2.53 -20.4,-6.63 -4.82,-6.63" fill="#fff" stroke="#000" stroke-width="7.2" stroke-linejoin="round"/></g><g transform="translate(898,673.35) scale(0.85,1)"><polygon points="0,-21.45 4.82,-6.63 20.4,-6.63 7.79,2.53 12.61,17.35 0,8.19 -12.61,17.35 -7.79,2.53 -20.4,-6.63 -4.82,-6.63" fill="#fff" stroke="#000" stroke-width="7.2" stroke-linejoin="round"/></g><g transform="translate(945.97,672.35) scale(0.85,1)"><polygon points="0,-21.45 4.82,-6.63 20.4,-6.63 7.79,2.53 12.61,17.35 0,8.19 -12.61,17.35 -7.79,2.53 -20.4,-6.63 -4.82,-6.63" fill="#fff" stroke="#000" stroke-width="7.2" stroke-linejoin="round"/></g><g transform="translate(993.93,671.25) scale(0.85,1)"><polygon points="0,-21.45 4.82,-6.63 20.4,-6.63 7.79,2.53 12.61,17.35 0,8.19 -12.61,17.35 -7.79,2.53 -20.4,-6.63 -4.82,-6.63" fill="#fff" stroke="#000" stroke-width="7.2" stroke-linejoin="round"/></g><g transform="translate(1041.9,671.25) scale(0.85,1)"><polygon points="0,-21.45 4.82,-6.63 20.4,-6.63 7.79,2.53 12.61,17.35 0,8.19 -12.61,17.35 -7.79,2.53 -20.4,-6.63 -4.82,-6.63" fill="#fff" stroke="#000" stroke-width="7.2" stroke-linejoin="round"/></g><g transform="translate(1089.87,670.75) scale(0.85,1)"><polygon points="0,-21.45 4.82,-6.63 20.4,-6.63 7.79,2.53 12.61,17.35 0,8.19 -12.61,17.35 -7.79,2.53 -20.4,-6.63 -4.82,-6.63" fill="#fff" stroke="#000" stroke-width="7.2" stroke-linejoin="round"/></g><g transform="translate(1137.83,670.75) scale(0.85,1)"><polygon points="0,-21.45 4.82,-6.63 20.4,-6.63 7.79,2.53 12.61,17.35 0,8.19 -12.61,17.35 -7.79,2.53 -20.4,-6.63 -4.82,-6.63" fill="#fff" stroke="#000" stroke-width="7.2" stroke-linejoin="round"/></g><g transform="translate(1185.8,669.8) scale(0.85,1)"><polygon points="0,-21.45 4.82,-6.63 20.4,-6.63 7.79,2.53 12.61,17.35 0,8.19 -12.61,17.35 -7.79,2.53 -20.4,-6.63 -4.82,-6.63" fill="#fff" stroke="#000" stroke-width="7.2" stroke-linejoin="round"/></g><g transform="translate(1233.77,670.2) scale(0.85,1)"><polygon points="0,-21.45 4.82,-6.63 20.4,-6.63 7.79,2.53 12.61,17.35 0,8.19 -12.61,17.35 -7.79,2.53 -20.4,-6.63 -4.82,-6.63" fill="#fff" stroke="#000" stroke-width="7.2" stroke-linejoin="round"/></g><g transform="translate(1281.73,669.55) scale(0.85,1)"><polygon points="0,-21.45 4.82,-6.63 20.4,-6.63 7.79,2.53 12.61,17.35 0,8.19 -12.61,17.35 -7.79,2.53 -20.4,-6.63 -4.82,-6.63" fill="#fff" stroke="#000" stroke-width="7.2" stroke-linejoin="round"/></g><g transform="translate(1329.7,669) scale(0.85,1)"><polygon points="0,-21.45 4.82,-6.63 20.4,-6.63 7.79,2.53 12.61,17.35 0,8.19 -12.61,17.35 -7.79,2.53 -20.4,-6.63 -4.82,-6.63" fill="#fff" stroke="#000" stroke-width="7.2" stroke-linejoin="round"/></g><g transform="translate(1377.67,668.75) scale(0.85,1)"><polygon points="0,-21.45 4.82,-6.63 20.4,-6.63 7.79,2.53 12.61,17.35 0,8.19 -12.61,17.35 -7.79,2.53 -20.4,-6.63 -4.82,-6.63" fill="#fff" stroke="#000" stroke-width="7.2" stroke-linejoin="round"/></g><g transform="translate(1425.63,667.8) scale(0.85,1)"><polygon points="0,-21.45 4.82,-6.63 20.4,-6.63 7.79,2.53 12.61,17.35 0,8.19 -12.61,17.35 -7.79,2.53 -20.4,-6.63 -4.82,-6.63" fill="#fff" stroke="#000" stroke-width="7.2" stroke-linejoin="round"/></g><g transform="translate(1473.6,667.8) scale(0.85,1)"><polygon points="0,-21.45 4.82,-6.63 20.4,-6.63 7.79,2.53 12.61,17.35 0,8.19 -12.61,17.35 -7.79,2.53 -20.4,-6.63 -4.82,-6.63" fill="#fff" stroke="#000" stroke-width="7.2" stroke-linejoin="round"/></g><g transform="translate(1521.57,667.8) scale(0.85,1)"><polygon points="0,-21.45 4.82,-6.63 20.4,-6.63 7.79,2.53 12.61,17.35 0,8.19 -12.61,17.35 -7.79,2.53 -20.4,-6.63 -4.82,-6.63" fill="#fff" stroke="#000" stroke-width="7.2" stroke-linejoin="round"/></g><g transform="translate(1569.53,667.8) scale(0.85,1)"><polygon points="0,-21.45 4.82,-6.63 20.4,-6.63 7.79,2.53 12.61,17.35 0,8.19 -12.61,17.35 -7.79,2.53 -20.4,-6.63 -4.82,-6.63" fill="#fff" stroke="#000" stroke-width="7.2" stroke-linejoin="round"/></g><polygon points="178.5,543.5 199.1,561.07 191.23,589.5 165.77,589.5 157.9,561.07" fill="#ff00ff"/><polygon points="226.47,526.85 247.07,544.42 239.2,572.85 213.73,572.85 205.87,544.42" fill="#ff00ff"/><polygon points="274.43,519.8 295.03,537.37 287.17,565.8 261.7,565.8 253.83,537.37" fill="#ff00ff"/><polygon points="322.4,518.75 343,536.32 335.13,564.75 309.67,564.75 301.8,536.32" fill="#ff00ff"/><polygon points="370.37,514.85 390.97,532.42 383.1,560.85 357.63,560.85 349.77,532.42" fill="#ff00ff"/><polygon points="418.33,509.7 438.93,527.27 431.07,555.7 405.6,555.7 397.73,527.27" fill="#ff00ff"/><polygon points="466.3,507.25 486.9,524.82 479.03,553.25 453.57,553.25 445.7,524.82" fill="#ff00ff"/><polygon points="514.27,500.8 534.87,518.37 527,546.8 501.53,546.8 493.67,518.37" fill="#ff00ff"/><polygon points="562.23,498.85 582.83,516.42 574.97,544.85 549.5,544.85 541.63,516.42" fill="#ff00ff"/><polygon points="610.2,496.85 630.8,514.42 622.93,542.85 597.47,542.85 589.6,514.42" fill="#ff00ff"/><polygon points="658.17,495.95 678.77,513.52 670.9,541.95 645.43,541.95 637.57,513.52" fill="#ff00ff"/><polygon points="706.13,493.75 726.73,511.32 718.87,539.75 693.4,539.75 685.53,511.32" fill="#ff00ff"/><polygon points="754.1,492.85 774.7,510.42 766.83,538.85 741.37,538.85 733.5,510.42" fill="#ff00ff"/><polygon points="802.07,489.75 822.67,507.32 814.8,535.75 789.33,535.75 781.47,507.32" fill="#ff00ff"/><polygon points="850.03,487.75 870.63,505.32 862.77,533.75 837.3,533.75 829.43,505.32" fill="#ff00ff"/><polygon points="898,486.7 918.6,504.27 910.73,532.7 885.27,532.7 877.4,504.27" fill="#ff00ff"/><polygon points="945.97,486.7 966.57,504.27 958.7,532.7 933.23,532.7 925.37,504.27" fill="#ff00ff"/><polygon points="993.93,485.75 1014.53,503.32 1006.67,531.75 981.2,531.75 973.33,503.32" fill="#ff00ff"/><polygon points="1041.9,484.55 1062.5,502.12 1054.63,530.55 1029.17,530.55 1021.3,502.12" fill="#ff00ff"/><polygon points="1089.87,484.55 1110.47,502.12 1102.6,530.55 1077.13,530.55 1069.27,502.12" fill="#ff00ff"/><polygon points="1137.83,484.55 1158.43,502.12 1150.57,530.55 1125.1,530.55 1117.23,502.12" fill="#ff00ff"/><polygon points="1185.8,483.6 1206.4,501.17 1198.53,529.6 1173.07,529.6 1165.2,501.17" fill="#ff00ff"/><polygon points="1233.77,483.95 1254.37,501.52 1246.5,529.95 1221.03,529.95 1213.17,501.52" fill="#ff00ff"/><polygon points="1281.73,483.95 1302.33,501.52 1294.47,529.95 1269,529.95 1261.13,501.52" fill="#ff00ff"/><polygon points="1329.7,482.85 1350.3,500.42 1342.43,528.85 1316.97,528.85 1309.1,500.42" fill="#ff00ff"/><polygon points="1377.67,482.85 1398.27,500.42 1390.4,528.85 1364.93,528.85 1357.07,500.42" fill="#ff00ff"/><polygon points="1425.63,481.8 1446.23,499.37 1438.37,527.8 1412.9,527.8 1405.03,499.37" fill="#ff00ff"/><polygon points="1473.6,480.85 1494.2,498.42 1486.33,526.85 1460.87,526.85 1453,498.42" fill="#ff00ff"/><polygon points="1521.57,479.9 1542.17,497.47 1534.3,525.9 1508.83,525.9 1500.97,497.47" fill="#ff00ff"/><polygon points="1569.53,478.7 1590.13,496.27 1582.27,524.7 1556.8,524.7 1548.93,496.27" fill="#ff00ff"/>
</g>
<text class="ax" text-anchor="end" transform="translate(142,1303.3) scale(0.84,1)">0</text><text class="ax" text-anchor="end" transform="translate(142,1164.86) scale(0.84,1)">2</text><text class="ax" text-anchor="end" transform="translate(142,1026.41) scale(0.84,1)">4</text><text class="ax" text-anchor="end" transform="translate(142,887.97) scale(0.84,1)">6</text><text class="ax" text-anchor="end" transform="translate(142,749.52) scale(0.84,1)">8</text><text class="ax" text-anchor="end" transform="translate(142,611.08) scale(0.84,1)">10</text><text class="ax" text-anchor="end" transform="translate(142,472.63) scale(0.84,1)">12</text><text class="ax" text-anchor="end" transform="translate(142,334.19) scale(0.84,1)">14</text><text class="ax" text-anchor="end" transform="translate(142,195.74) scale(0.84,1)">16</text><text class="ax" text-anchor="end" transform="translate(142,57.3) scale(0.84,1)">18</text><text class="ax" text-anchor="middle" transform="translate(178.5,1372) scale(0.84,1)">0</text><text class="ax" text-anchor="middle" transform="translate(418.33,1372) scale(0.84,1)">300</text><text class="ax" text-anchor="middle" transform="translate(658.17,1372) scale(0.84,1)">600</text><text class="ax" text-anchor="middle" transform="translate(898,1372) scale(0.84,1)">900</text><text class="ax" text-anchor="middle" transform="translate(1137.83,1372) scale(0.84,1)">1200</text><text class="ax" text-anchor="middle" transform="translate(1377.67,1372) scale(0.84,1)">1500</text><text class="ax" text-anchor="middle" transform="translate(1617.5,1372) scale(0.84,1)">1800</text>
<text class="tt" transform="translate(733.9,1476.5) scale(0.837,1)">Time, seconds</text>
<text class="tt" style="font-kerning:none" transform="translate(66,1052.7) rotate(-90) scale(0.84,1)" x="0 48.72 70.88 93.04 115.2 155.08 186.12 226.01 288.05 323.45 345.61 372.17 394.33 429.73 449.67 485.08 524.96 564.84 587 622.4 642.34 662.28 719.88 768.6 817.33 866.05" y="0">Ellipsometric angle, DELTA</text>
<line x1="524.5" y1="134.4" x2="566.5" y2="134.4" stroke="#000" stroke-width="3" stroke-linecap="round"/><line x1="613.5" y1="134.4" x2="655" y2="134.4" stroke="#000" stroke-width="3" stroke-linecap="round"/><line x1="524.5" y1="219" x2="566.5" y2="219" stroke="#000" stroke-width="3" stroke-linecap="round"/><line x1="613.5" y1="219" x2="655" y2="219" stroke="#000" stroke-width="3" stroke-linecap="round"/><line x1="524.5" y1="303.2" x2="570" y2="303.2" stroke="#000" stroke-width="6.8" stroke-linecap="round"/><line x1="610" y1="303.2" x2="654.5" y2="303.2" stroke="#000" stroke-width="6.8" stroke-linecap="round"/><line x1="524.5" y1="387.8" x2="566.6" y2="387.8" stroke="#000" stroke-width="6.6" stroke-linecap="round"/><line x1="613.6" y1="387.8" x2="654.5" y2="387.8" stroke="#000" stroke-width="6.6" stroke-linecap="round"/><line x1="867.5" y1="134.4" x2="909" y2="134.4" stroke="#ff0000" stroke-width="3" stroke-linecap="round"/><line x1="956.5" y1="134.4" x2="998" y2="134.4" stroke="#ff0000" stroke-width="3" stroke-linecap="round"/><line x1="867.8" y1="219.5" x2="908.5" y2="219.5" stroke="#00ff00" stroke-width="6.8" stroke-linecap="round"/><line x1="956.5" y1="219.5" x2="997.5" y2="219.5" stroke="#00ff00" stroke-width="6.8" stroke-linecap="round"/><line x1="867.8" y1="303.5" x2="909" y2="303.5" stroke="#808080" stroke-width="6.3" stroke-linecap="round"/><line x1="956.5" y1="303.5" x2="997.5" y2="303.5" stroke="#808080" stroke-width="6.3" stroke-linecap="round"/><line x1="867.5" y1="387.8" x2="909.5" y2="387.8" stroke="#ff00ff" stroke-width="3" stroke-linecap="round"/><line x1="956.5" y1="387.8" x2="998" y2="387.8" stroke="#ff00ff" stroke-width="3" stroke-linecap="round"/><g transform="translate(589.5,134.5) scale(0.85,1)"><rect x="-14.3" y="-14.3" width="28.6" height="28.6" fill="#fff" stroke="#000" stroke-width="8"/></g><g transform="translate(589.5,219.24) scale(0.85,1)"><polygon points="0,-25.6 22.17,12.8 -22.17,12.8" fill="#fff" stroke="#000" stroke-width="6.68" stroke-linejoin="round"/></g><g transform="translate(590,303.5) scale(0.85,1)"><polygon points="0,-23.2 23.2,0 0,23.2 -23.2,0" fill="#fff" stroke="#000" stroke-width="6.4" stroke-linejoin="round"/></g><g transform="translate(589.4,387.4) scale(0.88,1)"><polygon points="0,-20.8 4.67,-6.43 19.78,-6.43 7.56,2.46 12.23,16.83 0,7.94 -12.23,16.83 -7.56,2.46 -19.78,-6.43 -4.67,-6.43" fill="#fff" stroke="#000" stroke-width="7" stroke-linejoin="round"/></g><ellipse cx="932.9" cy="134.1" rx="18.1" ry="21.5" fill="#ff0000"/><g transform="translate(932.4,217.95) scale(0.85,1)"><polygon points="0,28.5 24.68,-14.25 -24.68,-14.25" fill="#00ff00" stroke="#00ff00" stroke-width="2" stroke-linejoin="round"/></g><polygon points="932.5,279.9 950,291.68 950,315.22 932.5,327 915,315.22 915,291.68" fill="#0000ff"/><polygon points="932.75,363 952.8,380.11 945.14,407.8 920.36,407.8 912.7,380.11" fill="#ff00ff"/><text class="lg" transform="translate(671.1,158) scale(0.8,1)">PSS 1</text><text class="lg" transform="translate(671.1,242.6) scale(0.8,1)">PSS 3</text><text class="lg" transform="translate(671.1,327.1) scale(0.8,1)">PSS 5</text><text class="lg" transform="translate(671.1,411.4) scale(0.8,1)">PSS 7</text><text class="lg" transform="translate(1014.3,158) scale(0.8,1)">pFOG 2</text><text class="lg" transform="translate(1014.3,242.6) scale(0.8,1)">pFOG 4</text><text class="lg" transform="translate(1014.3,327.1) scale(0.8,1)">pFOG 6</text><text class="lg" transform="translate(1014.3,411.4) scale(0.8,1)">pFOG 8</text>
</svg>
</body></html>
